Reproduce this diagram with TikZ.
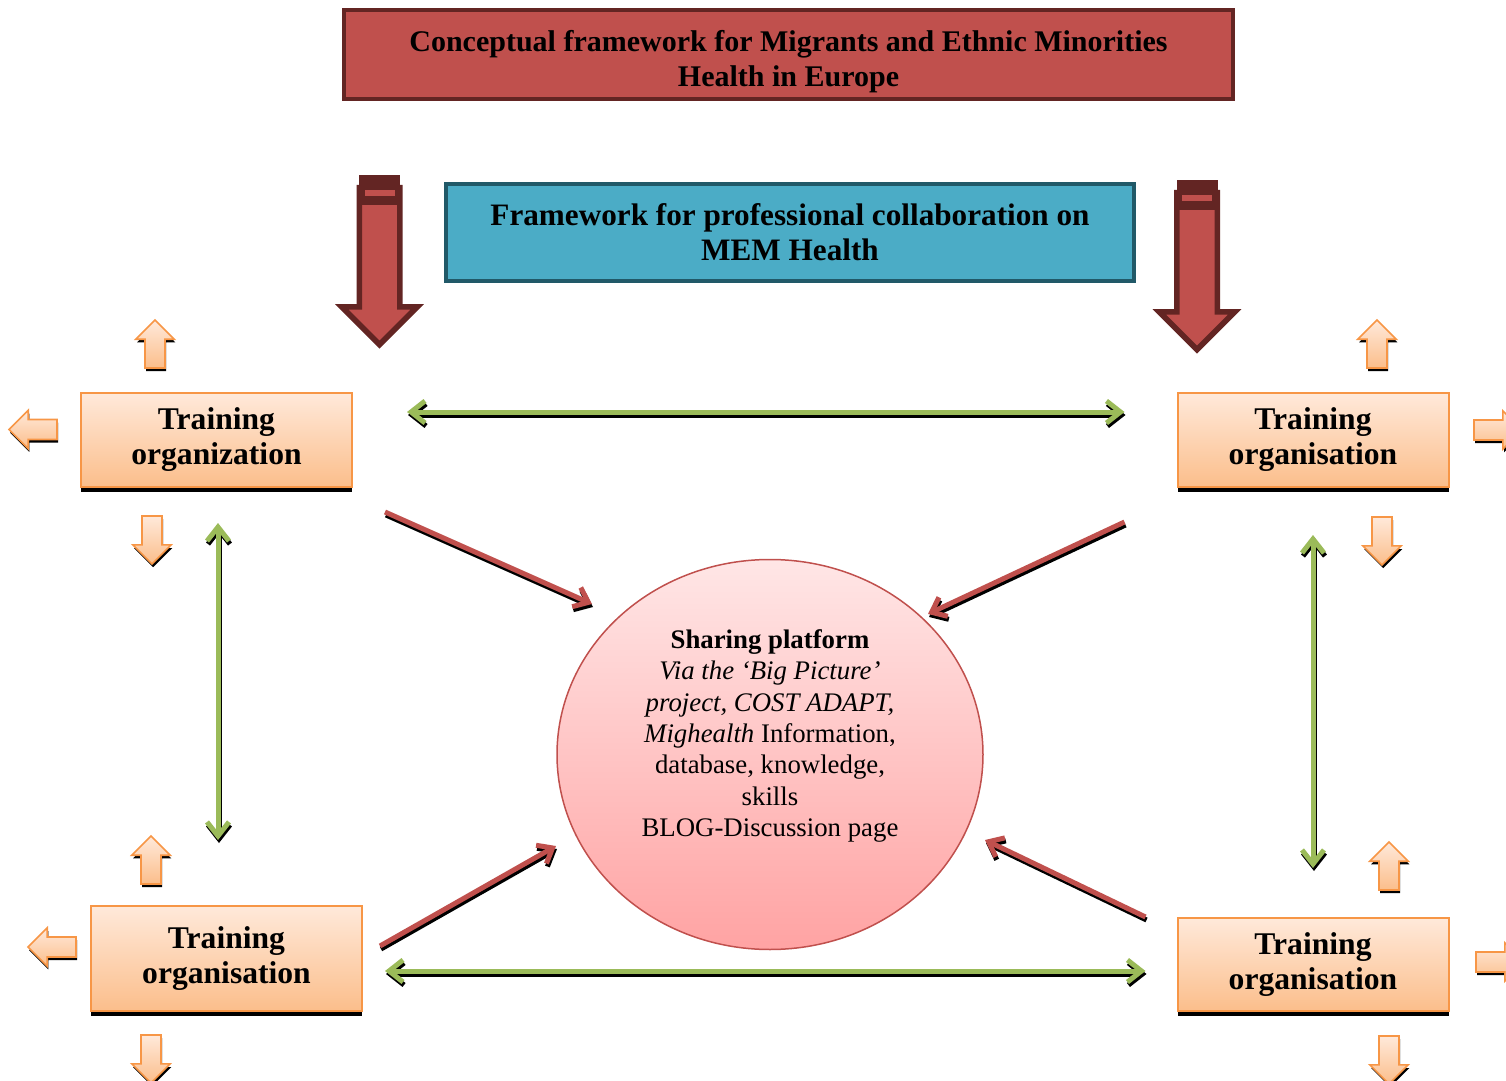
\documentclass[tikz,border=0pt]{standalone}
\usepackage{fontspec}
\setmainfont{Liberation Serif}
\usepackage{xcolor}
\usepackage{tikz}
\usetikzlibrary{arrows.meta}
\usetikzlibrary{positioning}
\usetikzlibrary{shapes}
\usetikzlibrary{shadows}
\definecolor{brick}{HTML}{C0504D}
\definecolor{brickdark}{HTML}{632523}
\definecolor{seablue}{HTML}{4BACC6}
\definecolor{seadark}{HTML}{215968}
\definecolor{peach}{HTML}{F79646}
\definecolor{peachtop}{HTML}{FFE9DA}
\definecolor{peachbottom}{HTML}{FBBE8B}
\definecolor{rosetop}{HTML}{FFE6E6}
\definecolor{rosebottom}{HTML}{FFA3A3}
\definecolor{leaf}{HTML}{9BBB59}
\tikzset{
  titlebox/.style={rectangle,draw=brickdark,line width=2pt,fill=brick,minimum width=444.5pt,minimum height=42.5pt,text height=35pt},
  collabbox/.style={rectangle,draw=seadark,line width=2pt,fill=seablue,minimum width=344pt,minimum height=48.5pt,
    font=\fontsize{15.6}{17.5}\selectfont\bfseries},
  orgbox/.style={rectangle,draw=peach,line width=1pt,top color=peachtop,bottom color=peachbottom,minimum width=135.5pt,minimum height=#1,
    font=\fontsize{15.8}{17.5}\selectfont\bfseries,drop shadow={shadow xshift=0pt,shadow yshift=-2.5pt,fill=black,opacity=1}},
  bigarrow/.style={single arrow,shape border rotate=270,draw=brickdark,line width=2.75pt,fill=brick,inner sep=8.75pt,
    minimum height=78.5pt,single arrow head extend=8.75pt},
  smallarrow/.style={single arrow,shape border rotate=#1,draw=peach,line width=0.8pt,top color=peachtop,bottom color=peachbottom,inner sep=4.6pt,
    minimum height=24pt,single arrow head extend=4.6pt,
    drop shadow={shadow xshift=0.6pt,shadow yshift=-1.6pt,fill=black,opacity=1}},
  platform/.style={ellipse,draw=brick,line width=0.75pt,top color=rosetop,bottom color=rosebottom,inner sep=0pt,minimum width=213pt,minimum height=195pt},
  greenlink/.style={draw=leaf,line width=2.5pt,{Straight Barb[length=7pt,width=11pt]}-{Straight Barb[length=7pt,width=11pt]}},
  redlink/.style={draw=brick,line width=2.5pt,-{Straight Barb[length=6.5pt,width=10.5pt]}},
  linkshadow/.style={draw=black,transform canvas={shift={(1,3)}}}
}
\begin{document}
\begin{tikzpicture}[x=0.5pt,y=-0.5pt]
        \useasboundingbox (0,0) rectangle (1506,1081);
        \begin{scope}[every node/.style={align=center,font=\fontsize{15}{17.5}\selectfont\bfseries}]
        \node[titlebox] (mem) at (788.5,54.5) {Conceptual framework for Migrants and Ethnic Minorities\\Health in Europe};
        \node[collabbox] (collab) at (790,232.5) {Framework for professional collaboration on\\MEM Health};
        \node[orgbox=47pt] (tl) at (216.5,440) {Training\\organization};
        \node[orgbox=47pt] (tr) at (1313,440) {Training\\organisation};
        \node[orgbox=52.5pt] (bl) at (226.5,958.5) {Training\\organisation};
        \node[orgbox=46.5pt] (br) at (1313,964.5) {Training\\organisation};
        \end{scope}
        \node[bigarrow] (bigl) at (379.5,256) {};
        \node[bigarrow] (bigr) at (1197,261) {};
        \fill[brickdark] ([shift={(-20.5,-81)}]bigl.center) rectangle ([shift={(20.5,-51)}]bigl.center);
        \fill[brick] ([shift={(-15,-66)}]bigl.center) rectangle ([shift={(15,-60)}]bigl.center);
        \fill[brickdark] ([shift={(-20.5,-81)}]bigr.center) rectangle ([shift={(20.5,-51)}]bigr.center);
        \fill[brick] ([shift={(-15,-66)}]bigr.center) rectangle ([shift={(15,-60)}]bigr.center);
        \node[smallarrow=90] (tlup) at (155,349) {};
        \node[smallarrow=180] (tlleft) at (38,429.5) {};
        \node[smallarrow=270] (tldown) at (152,535) {};
        \node[smallarrow=90] (trup) at (1377,349) {};
        \node[smallarrow=0] (trright) at (1493,430) {};
        \node[smallarrow=270] (trdown) at (1382,536) {};
        \node[smallarrow=90] (blup) at (151,865) {};
        \node[smallarrow=180] (blleft) at (57,947) {};
        \node[smallarrow=270] (bldown) at (151,1054) {};
        \node[smallarrow=90] (brup) at (1389,871) {};
        \node[smallarrow=0] (brright) at (1495,962) {};
        \node[smallarrow=270] (brdown) at (1389,1055) {};
        \node[platform] (plat) at (770,754.5) {};
        \node[align=center,font=\fontsize{13.4}{15.7}\selectfont] (platlabel) at ([shift={(0,-18.5)}]plat.center)
          {\textbf{Sharing platform}\\\textit{Via the ‘Big Picture’}\\\textit{project, COST ADAPT,}\\\textit{Mighealth} Information,\\database, knowledge,\\skills\\BLOG-Discussion page};
        \coordinate (topa) at ([shift={(54,-28)}]tl.east);
        \coordinate (topb) at ([shift={(-52,-28)}]tr.west);
        \coordinate (bota) at ([shift={(22,12.5)}]bl.east);
        \coordinate (botb) at ([shift={(-31,6.5)}]br.west);
        \coordinate (lefta) at ([shift={(1.5,35)}]tl.south);
        \coordinate (leftb) at ([shift={(-8.5,-65)}]bl.north);
        \coordinate (righta) at ([shift={(0,47)}]tr.south);
        \coordinate (rightb) at ([shift={(0,-49)}]br.north);
        \coordinate (tlout) at ([shift={(32,24)}]tl.south east);
        \coordinate (tlin) at ([shift={(-178,-150.5)}]plat.center);
        \coordinate (trout) at ([shift={(-52,34)}]tr.south west);
        \coordinate (trin) at ([shift={(158,-140.5)}]plat.center);
        \coordinate (blout) at ([shift={(17,-12.5)}]bl.east);
        \coordinate (blin) at ([shift={(-214,91.5)}]plat.center);
        \coordinate (brout) at ([shift={(-31,0)}]br.north west);
        \coordinate (brin) at ([shift={(215,85.5)}]plat.center);
        \foreach \a/\b in {topa/topb,bota/botb,lefta/leftb,righta/rightb} {
          \draw[greenlink,linkshadow] (\a) -- (\b);
          \draw[greenlink] (\a) -- (\b);
        }
        \foreach \a/\b in {tlout/tlin,trout/trin,blout/blin,brout/brin} {
          \draw[redlink,linkshadow] (\a) -- (\b);
          \draw[redlink] (\a) -- (\b);
        }
\end{tikzpicture}
\end{document}
